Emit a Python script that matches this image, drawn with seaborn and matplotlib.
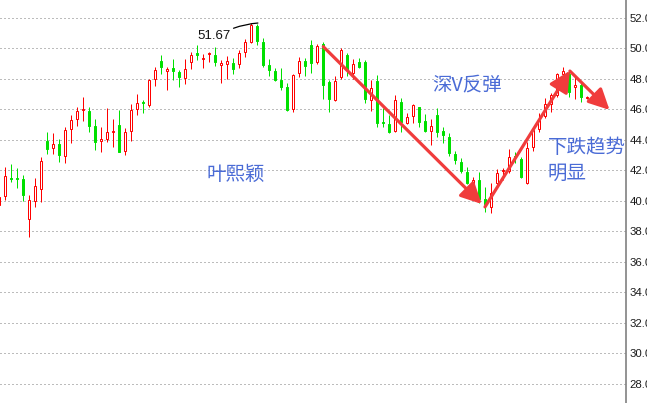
import numpy as np
import pandas as pd
import matplotlib
matplotlib.use("Agg")
import matplotlib.pyplot as plt
import seaborn as sns

# daily candles (red = up, green = down)
opens = [39.74, 40.35, 41.53, 41.53, 41.44, 38.80, 40.02, 40.81, 43.96, 43.45,
         43.74, 42.97, 44.70, 45.35, 45.95, 45.90, 44.92, 43.91, 44.09, 44.52,
         44.98, 43.30, 44.61, 46.01, 46.47, 46.29, 47.98, 49.18, 48.50, 48.72,
         48.46, 48.09, 49.14, 49.68, 49.33, 49.66, 49.57, 48.90, 48.96, 49.05,
         48.96, 49.79, 50.45, 51.48, 50.45, 48.92, 48.52, 47.93, 47.45, 46.01,
         48.37, 49.18, 50.23, 49.09, 50.29, 47.82, 46.62, 48.11, 49.57, 48.41,
         49.09, 49.09, 46.62, 47.87, 45.18, 45.03, 44.61, 46.51, 45.14, 45.57,
         46.14, 45.27, 44.61, 45.62, 44.59, 44.17, 43.08, 42.58, 41.92, 41.16,
         41.38, 40.11, 39.63, 41.16, 41.95, 41.99, 42.95, 42.73, 41.20, 43.52,
         44.72, 45.57, 46.36, 46.95, 48.33, 48.33, 47.45, 47.61, 46.75]
closes = [40.28, 41.64, 41.44, 41.44, 40.39, 40.07, 40.98, 42.60, 43.41, 43.74,
          43.02, 44.66, 45.31, 45.88, 46.01, 44.92, 43.89, 44.07, 44.50, 44.59,
          43.23, 44.50, 45.97, 46.40, 46.43, 47.93, 48.59, 48.81, 48.66, 48.55,
          48.11, 48.66, 49.57, 49.55, 49.38, 49.70, 49.14, 49.05, 49.16, 48.66,
          49.68, 50.40, 51.54, 50.51, 48.92, 48.59, 47.93, 47.45, 45.97, 48.24,
          49.20, 48.87, 49.03, 50.16, 47.61, 46.67, 47.89, 49.90, 48.59, 48.96,
          48.81, 46.67, 47.39, 45.14, 45.11, 44.55, 46.62, 45.20, 45.49, 46.29,
          45.16, 44.59, 44.92, 44.55, 44.33, 43.13, 42.66, 41.99, 41.20, 41.38,
          40.11, 39.80, 40.50, 41.81, 42.03, 42.86, 42.88, 41.55, 43.45, 44.66,
          45.31, 46.36, 46.95, 48.33, 48.55, 47.17, 47.61, 46.84, 46.80]
highs = [40.39, 42.21, 42.43, 42.14, 41.70, 40.39, 41.49, 42.86, 44.55, 44.44,
         44.04, 44.87, 45.64, 46.19, 46.80, 46.14, 45.38, 44.83, 46.08, 45.35,
         45.97, 44.77, 46.36, 47.02, 46.62, 47.98, 48.81, 49.57, 48.81, 49.29,
         48.59, 49.29, 49.79, 50.23, 49.64, 49.79, 50.08, 49.25, 49.51, 49.35,
         49.90, 50.60, 51.67, 51.61, 50.67, 49.29, 48.70, 48.70, 47.72, 48.33,
         49.46, 49.35, 50.56, 50.27, 50.45, 47.93, 48.20, 50.01, 49.68, 49.29,
         49.35, 49.25, 47.93, 48.26, 46.08, 45.64, 46.95, 46.73, 45.79, 46.36,
         46.19, 45.70, 45.35, 46.08, 44.87, 44.44, 43.30, 42.80, 42.25, 41.55,
         41.92, 40.90, 41.16, 42.08, 42.14, 43.39, 43.23, 42.91, 43.89, 44.87,
         45.75, 46.73, 47.06, 48.37, 48.81, 48.55, 48.26, 47.72, 46.88]
lows = [39.63, 40.07, 41.27, 40.83, 40.02, 37.62, 39.58, 39.91, 43.08, 43.08,
        42.54, 42.51, 43.82, 44.92, 45.27, 44.55, 43.34, 43.23, 43.89, 43.56,
        43.20, 43.02, 43.96, 45.64, 45.79, 46.14, 47.54, 48.33, 47.28, 47.93,
        47.45, 47.67, 48.63, 49.25, 48.74, 49.14, 48.85, 47.76, 48.00, 48.33,
        48.74, 49.46, 50.34, 50.23, 48.81, 48.20, 47.89, 47.28, 45.92, 45.86,
        48.15, 48.20, 48.41, 48.98, 46.67, 45.86, 46.58, 48.00, 48.20, 47.98,
        48.70, 46.40, 45.92, 44.87, 44.83, 44.44, 44.55, 44.55, 45.05, 45.09,
        44.87, 44.55, 43.67, 44.22, 43.78, 42.97, 42.43, 41.81, 41.11, 40.94,
        39.89, 39.30, 39.19, 40.98, 41.38, 41.86, 42.47, 41.49, 41.11, 43.30,
        44.55, 45.42, 45.86, 46.84, 48.15, 46.84, 46.67, 46.51, 46.71]

y_ticks = [28, 30, 32, 34, 36, 38, 40, 42, 44, 46, 48, 50, 52]
tick_labels = [f"{v:.2f}" for v in y_ticks]

notes = ["叶熙颖", "深V反弹", "下跌趋势", "明显"]
note_pos = [(34.6, 41.77), (72.1, 47.57), (91.45, 43.48), (91.45, 41.84)]

# trend arrows (start, end) in candle index / price
arrows = [((54.0, 50.12), (80.4, 39.80)),
          ((80.95, 39.61), (95.1, 48.54)),
          ((95.1, 48.52), (101.7, 45.97))]

df = pd.DataFrame({"open": opens, "close": closes, "high": highs, "low": lows})
df["idx"] = np.arange(len(df))
df["up"] = df["close"] >= df["open"]

sns.set_theme(style="white")
plt.rcParams["font.family"] = ["Liberation Sans", "Noto Sans CJK SC"]

RED = "#ff0000"
GREEN = "#00e000"
px = 0.72  # one pixel in points at dpi 100

fig = plt.figure(figsize=(6.47, 4.03), dpi=100)
ax = fig.add_axes([0, 0, 626 / 647, 1])

for yv in y_ticks:
    ax.axhline(yv, color="#7a7a7a", lw=px, ls=(0, (1, 3)), zorder=0)

up = df[df["up"]]
dn = df[~df["up"]]
ax.vlines(up["idx"], up["low"], up["high"], color=RED, lw=px, zorder=2)
ax.vlines(dn["idx"], dn["low"], dn["high"], color=GREEN, lw=px, zorder=2)

bw = 0.36
ax.bar(up["idx"], (up["close"] - up["open"]).clip(lower=0.03), bottom=up["open"],
       width=bw, facecolor="white", edgecolor=RED, linewidth=px, zorder=3)
ax.bar(dn["idx"], (dn["open"] - dn["close"]).clip(lower=0.03), bottom=dn["close"],
       width=bw, facecolor=GREEN, edgecolor=GREEN, linewidth=px, zorder=3)

# peak label
peak = int(df["high"].idxmax())
ax.annotate(f"{df['high'].max():.2f}", xy=(peak + 1.1, df["high"].max()),
            xytext=(32.95, 50.85), ha="left", va="center", fontsize=9.5,
            color="#111111",
            arrowprops=dict(arrowstyle="-", color="black", lw=0.9,
                            relpos=(1.0, 1.0), shrinkA=0, shrinkB=0,
                            connectionstyle="arc3,rad=-0.08"), zorder=5)

for (x0, y0), (x1, y1) in arrows:
    ax.annotate("", xy=(x1, y1), xytext=(x0, y0),
                arrowprops=dict(arrowstyle="-|>,head_length=0.9,head_width=0.45",
                                color="#f03c3c", lw=2.3, shrinkA=0, shrinkB=0,
                                mutation_scale=14), zorder=4)

for txt, (tx, ty) in zip(notes, note_pos):
    ax.text(tx, ty, txt, ha="left", va="center", fontsize=14, color="#4a6bd6",
            family=["Noto Sans CJK SC", "DejaVu Sans"], zorder=6, clip_on=False)

ax.set_xlim(0.117, 104.45)
ax.set_ylim(26.75, 53.18)
ax.yaxis.tick_right()
ax.set_yticks(y_ticks)
ax.set_yticklabels(tick_labels)
ax.set_xticks([])
ax.tick_params(axis="y", length=0, pad=2.5, labelsize=8.2, colors="#1a1a1a")
sns.despine(ax=ax, left=True, bottom=True, top=True, right=False)
ax.spines["right"].set_color("#808080")
ax.spines["right"].set_linewidth(1.2)
ax.set_facecolor("white")
ax.grid(False)

fig.savefig("out.png", dpi=100)
